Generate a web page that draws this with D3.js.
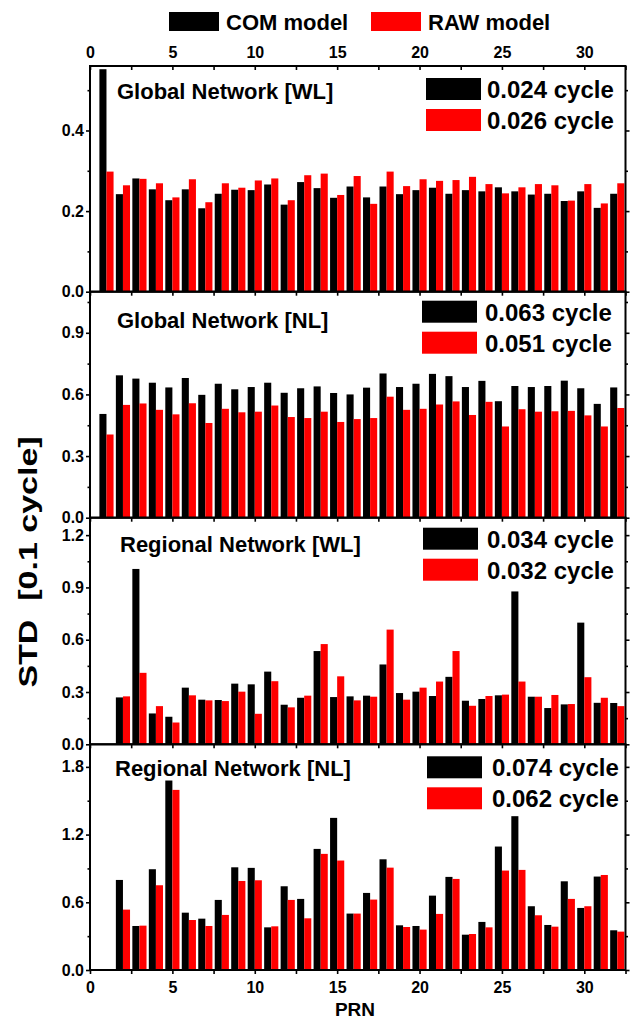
<!DOCTYPE html>
<html>
<head>
<meta charset="utf-8">
<script src="https://cdn.jsdelivr.net/npm/d3@7"></script>
<style>
  body { margin: 0; background: #fff; }
  svg { display: block; font-family: "Liberation Sans", Arial, sans-serif; font-weight: bold; }
  .axis path { display: none; }
  .axis line { stroke: #000; stroke-width: 1.6; }
  .axis text { font-size: 16px; font-weight: bold; fill: #000; font-family: "Liberation Sans", Arial, sans-serif; }
</style>
</head>
<body>
<div id="chart"></div>
<script>
// PRN numbers on the x axis
const prn = [1, 2, 3, 4, 5, 6, 7, 8, 9, 10, 11, 12, 13, 14, 15, 16,
             17, 18, 19, 20, 21, 22, 23, 24, 25, 26, 27, 28, 29, 30, 31, 32];

// Global Network [WL]
const glWlCom = [0.552, 0.242, 0.281, 0.254, 0.227, 0.254, 0.207, 0.243, 0.253, 0.252, 0.266, 0.216, 0.272, 0.257, 0.233, 0.261,
                 0.234, 0.261, 0.242, 0.252, 0.258, 0.243, 0.252, 0.249, 0.259, 0.249, 0.241, 0.243, 0.225, 0.249, 0.208, 0.243];
const glWlRaw = [0.298, 0.264, 0.280, 0.269, 0.234, 0.279, 0.222, 0.269, 0.258, 0.276, 0.281, 0.227, 0.289, 0.293, 0.240, 0.287,
                 0.218, 0.298, 0.262, 0.279, 0.275, 0.277, 0.285, 0.267, 0.244, 0.259, 0.267, 0.264, 0.226, 0.267, 0.219, 0.269];

// Global Network [NL]
const glNlCom = [0.505, 0.693, 0.677, 0.657, 0.634, 0.680, 0.598, 0.652, 0.625, 0.636, 0.657, 0.608, 0.630, 0.639, 0.607, 0.600,
                 0.633, 0.702, 0.636, 0.652, 0.700, 0.689, 0.636, 0.666, 0.567, 0.641, 0.636, 0.641, 0.667, 0.630, 0.554, 0.634];
const glNlRaw = [0.405, 0.549, 0.556, 0.525, 0.503, 0.557, 0.461, 0.530, 0.513, 0.516, 0.546, 0.490, 0.485, 0.516, 0.466, 0.480,
                 0.485, 0.589, 0.525, 0.530, 0.551, 0.566, 0.500, 0.564, 0.444, 0.528, 0.516, 0.518, 0.520, 0.498, 0.444, 0.534];

// Regional Network [WL] (no PRN 1)
const rgWlCom = [null, 0.269, 1.006, 0.177, 0.158, 0.325, 0.256, 0.254, 0.348, 0.344, 0.417, 0.227, 0.267, 0.535, 0.271, 0.275,
                 0.279, 0.458, 0.294, 0.302, 0.277, 0.387, 0.250, 0.260, 0.281, 0.877, 0.273, 0.208, 0.229, 0.698, 0.238, 0.237];
const rgWlRaw = [null, 0.275, 0.410, 0.219, 0.125, 0.281, 0.252, 0.248, 0.302, 0.175, 0.362, 0.212, 0.279, 0.575, 0.390, 0.252,
                 0.273, 0.658, 0.256, 0.325, 0.360, 0.535, 0.221, 0.277, 0.285, 0.360, 0.273, 0.283, 0.231, 0.385, 0.267, 0.219];

// Regional Network [NL] (no PRN 1)
const rgNlCom = [null, 0.798, 0.390, 0.893, 1.679, 0.508, 0.455, 0.621, 0.910, 0.905, 0.378, 0.742, 0.630, 1.073, 1.348, 0.500,
                 0.683, 0.981, 0.396, 0.390, 0.659, 0.825, 0.313, 0.426, 1.094, 1.363, 0.565, 0.399, 0.786, 0.550, 0.828, 0.352];
const rgNlRaw = [null, 0.535, 0.393, 0.751, 1.596, 0.443, 0.390, 0.488, 0.789, 0.795, 0.387, 0.621, 0.458, 1.029, 0.970, 0.500,
                 0.624, 0.907, 0.381, 0.358, 0.497, 0.807, 0.319, 0.378, 0.881, 0.887, 0.485, 0.384, 0.630, 0.565, 0.842, 0.340];

const seriesNames = ['COM model', 'RAW model'];
const panelTitles = ['Global Network [WL]', 'Global Network [NL]', 'Regional Network [WL]', 'Regional Network [NL]'];
const comStd = ['0.024 cycle', '0.063 cycle', '0.034 cycle', '0.074 cycle'];
const rawStd = ['0.026 cycle', '0.051 cycle', '0.032 cycle', '0.062 cycle'];
const yMax = [0.56, 1.1, 1.3, 2.0];
const yMajor = [[0, 0.2, 0.4], [0, 0.3, 0.6, 0.9], [0, 0.3, 0.6, 0.9, 1.2], [0, 0.6, 1.2, 1.8]];
const yMinor = [[0.1, 0.3, 0.5], [0.15, 0.45, 0.75, 1.05], [0.15, 0.45, 0.75, 1.05], [0.3, 0.9, 1.5]];
const xMajor = [0, 5, 10, 15, 20, 25, 30];
const xMinor = [2.5, 7.5, 12.5, 17.5, 22.5, 27.5, 32.5];

const comData = [glWlCom, glNlCom, rgWlCom, rgNlCom];
const rawData = [glWlRaw, glNlRaw, rgWlRaw, rgNlRaw];

// layout
const W = 637, H = 1020;
const left = 90, right = 625.5;
const bounds = [66, 291.7, 517.7, 744.3, 970];
const colors = ['#000000', '#ff0000'];
const barW = 0.43;

// per-panel placement of title and legend (offsets from panel top)
const panelLayout = [
  { titleX: 117, titleDy: 33, legX: 426, legDy: 12, textX: 487 },
  { titleX: 117, titleDy: 36, legX: 422, legDy: 9, textX: 485 },
  { titleX: 120, titleDy: 34, legX: 423, legDy: 10, textX: 487 },
  { titleX: 115, titleDy: 32, legX: 427, legDy: 12, textX: 492 }
];

const svg = d3.select('#chart').append('svg')
  .attr('width', W).attr('height', H);
svg.append('rect').attr('width', W).attr('height', H).attr('fill', '#fff');

const x = d3.scaleLinear().domain([0, 32.5]).range([left, right]);

// top legend
const topLeg = [{ x: 169, tx: 226 }, { x: 371, tx: 428 }];
seriesNames.forEach((name, i) => {
  svg.append('rect')
    .attr('x', topLeg[i].x).attr('y', 12)
    .attr('width', 50).attr('height', 19)
    .attr('fill', colors[i]);
  svg.append('text')
    .attr('x', topLeg[i].tx).attr('y', 29.5)
    .attr('font-size', 22)
    .text(name);
});

panelTitles.forEach((title, p) => {
  const top = bounds[p], bottom = bounds[p + 1];
  const y = d3.scaleLinear().domain([0, yMax[p]]).range([bottom, top]);
  const g = svg.append('g');
  const L = panelLayout[p];

  // bars
  const rows = prn.map((d, i) => ({ prn: d, com: comData[p][i], raw: rawData[p][i] }));
  g.append('g').selectAll('rect')
    .data(rows.filter(d => d.com != null))
    .join('rect')
    .attr('x', d => x(d.prn - barW))
    .attr('width', d => x(d.prn) - x(d.prn - barW))
    .attr('y', d => y(d.com))
    .attr('height', d => y(0) - y(d.com))
    .attr('fill', colors[0]);
  g.append('g').selectAll('rect')
    .data(rows.filter(d => d.raw != null))
    .join('rect')
    .attr('x', d => x(d.prn))
    .attr('width', d => x(d.prn + barW) - x(d.prn))
    .attr('y', d => y(d.raw))
    .attr('height', d => y(0) - y(d.raw))
    .attr('fill', colors[1]);

  // y axes left and right
  g.append('g').attr('class', 'axis')
    .attr('transform', `translate(${left},0)`)
    .call(d3.axisLeft(y).tickValues(yMajor[p]).tickSize(4).tickPadding(2)
      .tickFormat(d3.format('.1f')));
  g.append('g').attr('class', 'axis')
    .attr('transform', `translate(${left},0)`)
    .call(d3.axisLeft(y).tickValues(yMinor[p]).tickSize(2.5).tickFormat(''));
  g.append('g').attr('class', 'axis')
    .attr('transform', `translate(${right},0)`)
    .call(d3.axisRight(y).tickValues(yMajor[p]).tickSize(4).tickFormat(''));
  g.append('g').attr('class', 'axis')
    .attr('transform', `translate(${right},0)`)
    .call(d3.axisRight(y).tickValues(yMinor[p]).tickSize(2.5).tickFormat(''));

  // x ticks at panel bottom (pointing down)
  const isLast = p === panelTitles.length - 1;
  g.append('g').attr('class', 'axis')
    .attr('transform', `translate(0,${bottom})`)
    .call(d3.axisBottom(x).tickValues(xMajor).tickSize(4).tickPadding(8)
      .tickFormat(isLast ? d3.format('d') : ''));
  g.append('g').attr('class', 'axis')
    .attr('transform', `translate(0,${bottom})`)
    .call(d3.axisBottom(x).tickValues(xMinor).tickSize(4).tickFormat(''));

  // frame
  g.append('rect')
    .attr('x', left).attr('y', top)
    .attr('width', right - left).attr('height', bottom - top)
    .attr('fill', 'none').attr('stroke', '#000').attr('stroke-width', 2);

  // title
  g.append('text')
    .attr('x', L.titleX).attr('y', top + L.titleDy)
    .attr('font-size', 22)
    .text(title);

  // legend with overall STD
  [comStd[p], rawStd[p]].forEach((label, i) => {
    g.append('rect')
      .attr('x', L.legX).attr('y', top + L.legDy + i * 31)
      .attr('width', 55).attr('height', 22)
      .attr('fill', colors[i]);
    g.append('text')
      .attr('x', L.textX).attr('y', top + L.legDy + 20 + i * 31)
      .attr('font-size', 24)
      .text(label);
  });
});

// top x axis with labels, ticks pointing inward
svg.append('g').attr('class', 'axis')
  .attr('transform', `translate(0,${bounds[0]})`)
  .call(d3.axisTop(x).tickValues(xMajor).tickSizeInner(-4).tickSizeOuter(0).tickPadding(8)
    .tickFormat(d3.format('d')));
svg.append('g').attr('class', 'axis')
  .attr('transform', `translate(0,${bounds[0]})`)
  .call(d3.axisTop(x).tickValues(xMinor).tickSizeInner(-4).tickSizeOuter(0).tickFormat(''));

// axis titles
svg.append('text')
  .attr('x', 355).attr('y', 1016)
  .attr('text-anchor', 'middle')
  .attr('font-size', 19)
  .text('PRN');

// y title is stretched along its baseline, as in the original figure
svg.append('text')
  .attr('transform', 'translate(37,562) rotate(-90) scale(1.36,1)')
  .attr('text-anchor', 'middle')
  .attr('font-size', 25)
  .style('white-space', 'pre')
  .text('STD  [0.1 cycle]');
</script>
</body>
</html>
